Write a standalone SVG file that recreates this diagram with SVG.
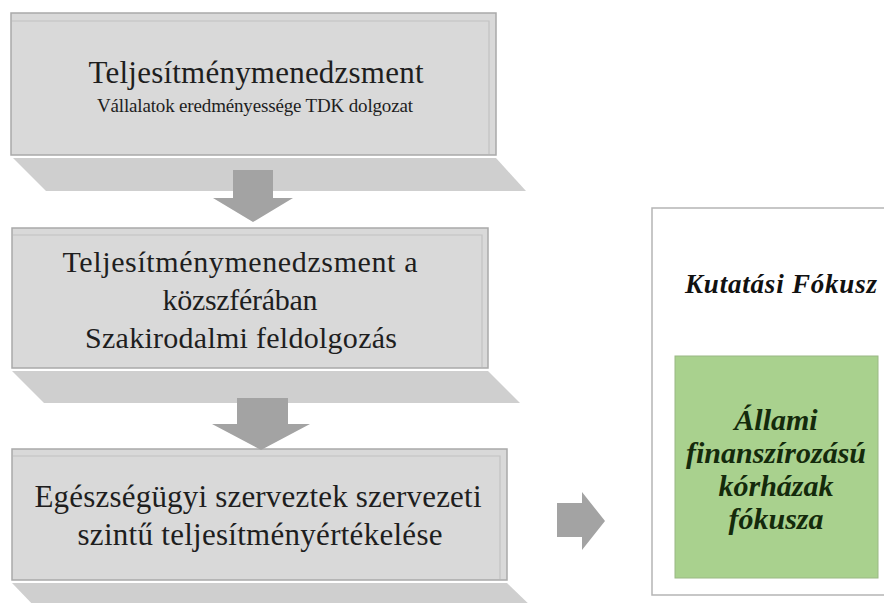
<svg xmlns="http://www.w3.org/2000/svg" width="884" height="603" viewBox="0 0 884 603">
  <style>
    .box { fill: #d9d9d9; stroke: #a9a9a9; stroke-width: 1.5; }
    .bevel { fill: none; stroke: #c2c2c2; stroke-width: 1.2; }
    .shadow { fill: #cfcfcf; }
    .arrow { fill: #a3a3a3; }
    .t { font-family: "Liberation Serif", "Times New Roman", serif; fill: #1e1e1e; text-anchor: middle; }
    .bi { font-family: "Liberation Serif", "Times New Roman", serif; font-weight: bold; font-style: italic; text-anchor: middle; }
  </style>
  <rect width="884" height="603" fill="#ffffff"/>

  <!-- stage 1 -->
  <g id="stage1">
    <polygon class="shadow" points="13,158 496,158 526,191 46,191"/>
    <rect class="box" x="11" y="13" width="485" height="142"/>
    <polyline class="bevel" points="12,21 489,21 489,154"/>
    <text class="t" x="256" y="83" font-size="31" textLength="335">Teljesítménymenedzsment</text>
    <text class="t" x="255" y="112" font-size="19" textLength="316">Vállalatok eredményessége TDK dolgozat</text>
  </g>

  <!-- stage 2 -->
  <g id="stage2">
    <polygon class="shadow" points="12,371 488,371 520,403 44,403"/>
    <rect class="box" x="12" y="228" width="476" height="140"/>
    <polyline class="bevel" points="13,235 482,235 482,367"/>
    <text class="t" x="240" y="272" font-size="30" textLength="355">Teljesítménymenedzsment a</text>
    <text class="t" x="240" y="310" font-size="30" textLength="155">közszférában</text>
    <text class="t" x="241" y="348" font-size="30" textLength="312">Szakirodalmi feldolgozás</text>
  </g>

  <!-- stage 3 -->
  <g id="stage3">
    <polygon class="shadow" points="12,583 507,583 535,610 38,610"/>
    <rect class="box" x="12" y="449" width="495" height="131"/>
    <polyline class="bevel" points="13,456 500,456 500,579"/>
    <text class="t" x="258" y="507" font-size="31" textLength="447">Egészségügyi szerveztek szervezeti</text>
    <text class="t" x="260" y="545" font-size="31" textLength="365">szintű teljesítményértékelése</text>
  </g>

  <!-- research focus panel -->
  <g id="focus">
    <rect x="652" y="208" width="240" height="387" fill="#ffffff" stroke="#b5b5b5" stroke-width="1.5"/>
    <text class="bi" x="781" y="293" font-size="27" fill="#111111" textLength="192">Kutatási Fókusz</text>
  </g>

  <g id="focus-hospitals">
    <rect x="675" y="356" width="203" height="222" fill="#a9d18e" stroke="#9ab884" stroke-width="1"/>
    <text class="bi" x="776" y="430" font-size="30" fill="#142a0c">Állami</text>
    <text class="bi" x="776" y="463" font-size="30" fill="#142a0c">finanszírozású</text>
    <text class="bi" x="776" y="496" font-size="30" fill="#142a0c">kórházak</text>
    <text class="bi" x="776" y="529" font-size="30" fill="#142a0c">fókusza</text>
  </g>

  <!-- block arrows -->
  <g id="connectors">
    <polygon class="arrow" points="233,170 273,170 273,198 293,198 253,222 213,198 233,198"/>
    <polygon class="arrow" points="237,398 288,398 288,424 310,424 261,450 212,424 237,424"/>
    <polygon class="arrow" points="557,503 582,503 582,492 605,521 582,550 582,537 557,537"/>
  </g>
</svg>
